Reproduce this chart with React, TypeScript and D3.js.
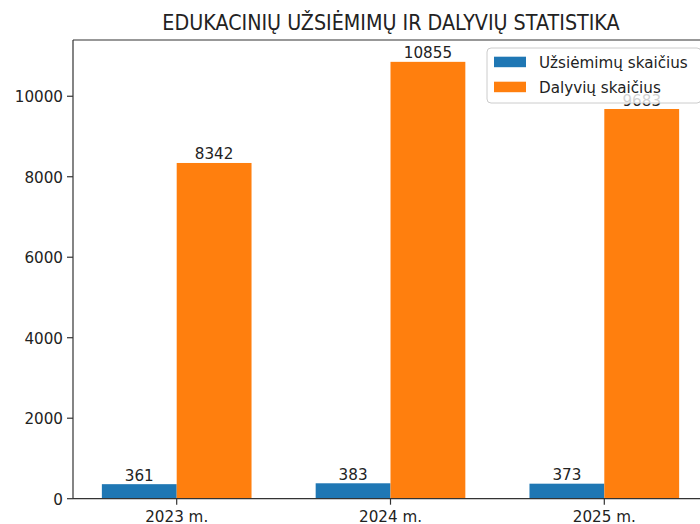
import React from "react";
import * as d3 from "d3";

const categories = ["2023 m.", "2024 m.", "2025 m."];
const seriesNames = ["Užsiėmimų skaičius", "Dalyvių skaičius"];
const sessions = [361, 383, 373];
const participants = [8342, 10855, 9683];
const yTicks = [0, 2000, 4000, 6000, 8000, 10000];
const colors = ["#1f77b4", "#ff7f0e"];

const W = 700, H = 524;
const left = 73, right = 708, top = 40, bottom = 498.7;
const FONT = "DejaVu Sans, sans-serif";

function T({ x, y, anchor = "middle", size = 16.5, sx = 0.92, fill = "#222", children }: any) {
  return (
    <text transform={`translate(${x},${y}) scale(${sx},1)`} textAnchor={anchor} fontSize={size} fill={fill} fontFamily={FONT}>
      {children}
    </text>
  );
}

export default function App() {
  const idx = categories.map((_, i) => i);
  const barW = 0.35;
  const x = d3.scaleLinear().domain([-0.485, 2.485]).range([left, right]);
  const maxV = d3.max(participants)! * 1.05;
  const y = d3.scaleLinear().domain([0, maxV]).range([bottom, top]);
  const series = [sessions, participants];
  return (
    <svg width={W} height={H} style={{ position: "absolute", left: 0, top: 0, background: "#fff" }}>
      <rect x={0} y={0} width={W} height={H} fill="#fff" />
      {series.map((vals, s) =>
        vals.map((v, i) => {
          const x0 = s === 0 ? x(idx[i] - barW) : x(idx[i]);
          const x1 = s === 0 ? x(idx[i]) : x(idx[i] + barW);
          return <rect key={`${s}-${i}`} x={x0} y={y(v)} width={x1 - x0} height={y(0) - y(v)} fill={colors[s]} />;
        })
      )}
      {series.map((vals, s) =>
        vals.map((v, i) => {
          const cx = s === 0 ? x(idx[i] - barW / 2) : x(idx[i] + barW / 2);
          return <T key={`l${s}-${i}`} x={cx} y={y(v) - 3.5}>{v}</T>;
        })
      )}
      {/* spines */}
      <line x1={left} x2={left} y1={top} y2={bottom} stroke="#333" strokeWidth={1.2} />
      <line x1={left} x2={W} y1={bottom} y2={bottom} stroke="#333" strokeWidth={1.2} />
      <line x1={left} x2={W} y1={top} y2={top} stroke="#333" strokeWidth={1.2} />
      {yTicks.map((t) => (
        <g key={t}>
          <line x1={left - 6} x2={left} y1={y(t)} y2={y(t)} stroke="#333" strokeWidth={1.2} />
          <T x={left - 10} y={y(t) + 6} anchor="end">{t}</T>
        </g>
      ))}
      {categories.map((c, i) => (
        <g key={c}>
          <line x1={x(idx[i])} x2={x(idx[i])} y1={bottom} y2={bottom + 6} stroke="#333" strokeWidth={1.2} />
          <T x={x(idx[i])} y={bottom + 23.5}>{c}</T>
        </g>
      ))}
      <T x={391} y={30} size={21.5} sx={0.89}>EDUKACINIŲ UŽSIĖMIMŲ IR DALYVIŲ STATISTIKA</T>
      {/* legend */}
      <rect x={487} y={48} width={214} height={55} rx={4} fill="#fff" fillOpacity={0.8} stroke="#ccc" strokeWidth={1} />
      {seriesNames.map((n, s) => (
        <g key={n}>
          <rect x={494} y={56.7 + s * 25} width={32} height={10.5} fill={colors[s]} />
          <T x={539} y={67.5 + s * 25} anchor="start">{n}</T>
        </g>
      ))}
    </svg>
  );
}
